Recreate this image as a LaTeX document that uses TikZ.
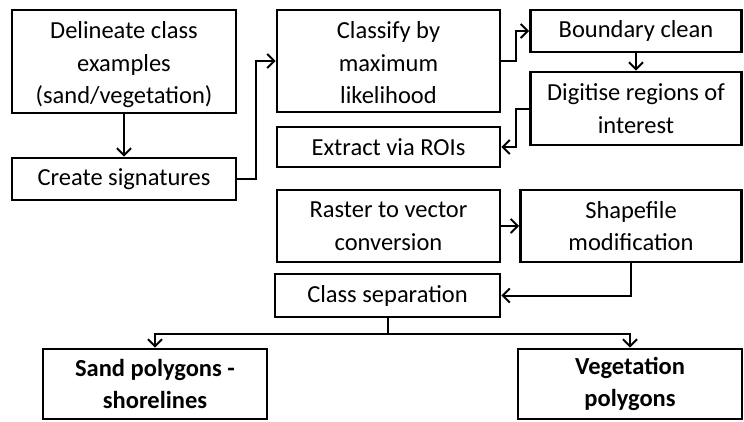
\documentclass[tikz,border=0pt]{standalone}
\usepackage{fontspec}
\setmainfont{Carlito}
\usetikzlibrary{arrows.meta,calc}

% taller first line, to lower a block of text a little inside its box
\newcommand{\lowerby}[1]{\rule{0pt}{\dimexpr 17pt+#1\relax}}

\begin{document}
\begin{tikzpicture}[x=1pt,y=-1pt,
  box/.style 2 args={draw, line width=2.8pt, inner sep=0pt, align=center,
    minimum width=#1pt, minimum height=#2pt,
    font=\fontsize{24.5}{32.5}\selectfont},
  link/.style={line width=2pt, -{Straight Barb[length=7pt,width=14pt]}},
  plain/.style={line width=2pt}]

\useasboundingbox (0,0) rectangle (744,421);

% process boxes
\node[box={224}{103}] (del) at (124,61.5) {\lowerby{7pt}Delineate class\\examples\\(sand/vegetation)};
\node[box={224}{42}]  (sig) at (124,179) {Create signatures};
\node[box={223}{102}] (cls) at (388.5,61) {\lowerby{4pt}Classify by\\maximum\\likelihood};
\node[box={223}{40}]  (ext) at (388.5,147) {Extract via ROIs};
\node[box={211}{42}]  (bnd) at (636,31) {Boundary clean};
\node[box={211}{73}]  (dig) at (636,108.5) {Digitise regions of\\interest};
\node[box={223}{72}]  (ras) at (388.5,226) {Raster to vector\\conversion};
\node[box={221}{72}]  (shp) at (631,226) {Shapefile\\modification};
\node[box={225}{43}]  (sep) at (387.5,295.5) {Class separation};
\node[box={224}{70}]  (sand) at (155,384) {\bfseries Sand polygons -\\\bfseries shorelines};
\node[box={224}{70}]  (veg) at (630,384) {\bfseries Vegetation\\\bfseries polygons};

% connectors
\draw[link] (del.south) -- (sig.north);
\draw[link] (sig.east) -- ++(19,0) |- (cls.west);
\draw[link] (cls.east) -- ++(15,0) |- (bnd.west);
\draw[link] (bnd.south) -- (dig.north);
\draw[link] (dig.west) -- ++(-13,0) |- (ext.east);
\draw[link] (ras.east) -- (shp.west);
\draw[link] (shp.south) |- (sep.east);
\draw[plain] (sep.south) -- ++(0,15.5) coordinate (split);
\draw[link] (split) -| (sand.north);
\draw[link] (split) -| (veg.north);
\end{tikzpicture}
\end{document}
